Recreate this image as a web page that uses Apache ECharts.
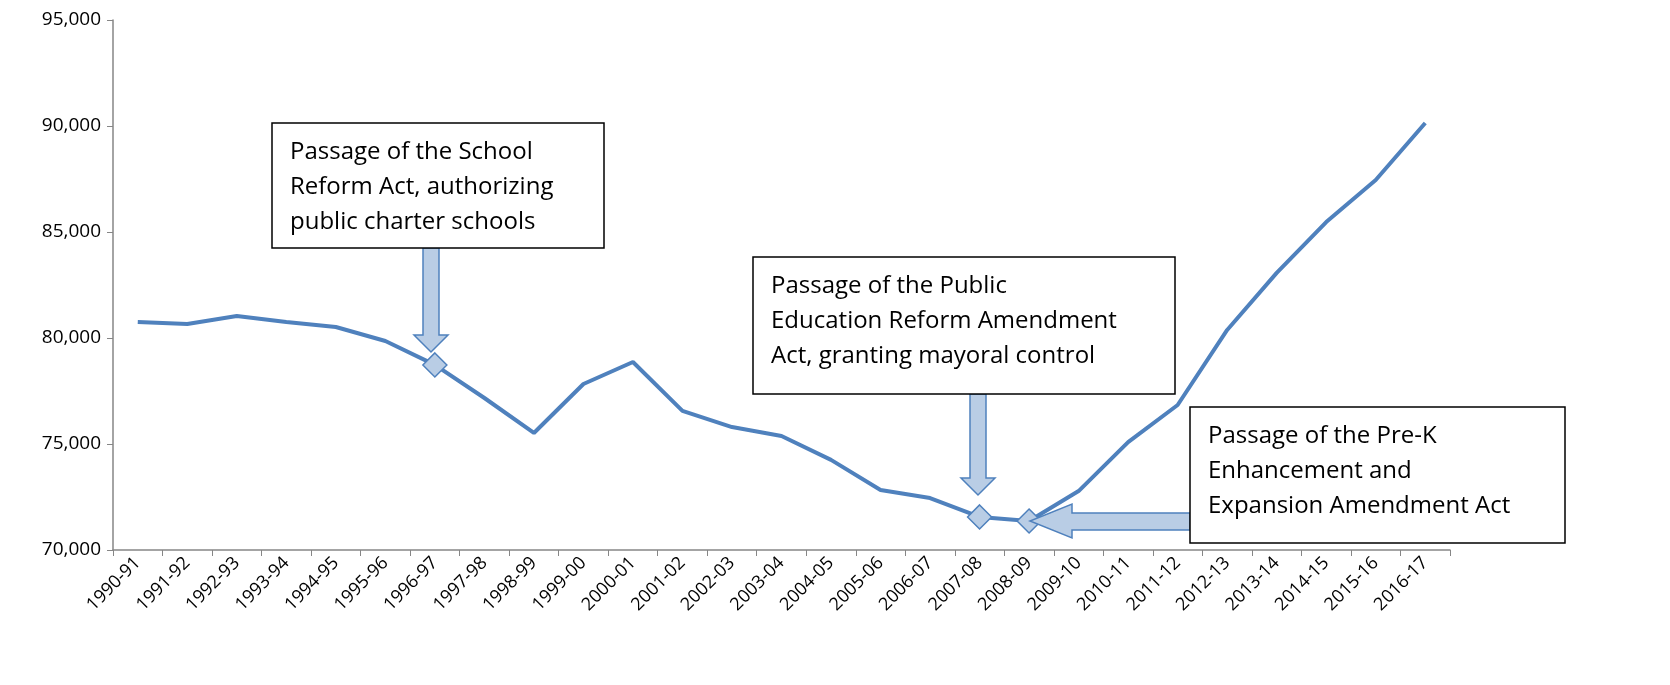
<!DOCTYPE html>
<html><head><meta charset="utf-8">
<script src="https://cdn.jsdelivr.net/npm/echarts@6/dist/echarts.min.js"></script>
<style>html,body{margin:0;padding:0;background:#fff}#c{width:1670px;height:685px}</style>
</head><body><div id="c"></div>
<script>
const years = ['1990-91','1991-92','1992-93','1993-94','1994-95','1995-96','1996-97','1997-98','1998-99','1999-00','2000-01','2001-02','2002-03','2003-04','2004-05','2005-06','2006-07','2007-08','2008-09','2009-10','2010-11','2011-12','2012-13','2013-14','2014-15','2015-16','2016-17'];
const enrollment = [80750,80660,81040,80750,80520,79860,78730,77170,75520,77830,78870,76560,75800,75380,74250,72830,72450,71560,71370,72780,75090,76840,80380,83070,85470,87450,90140];
const markedYears = ['1996-97','2007-08','2008-09'];
const notes = ['Passage of the School\nReform Act, authorizing\npublic charter schools',
  'Passage of the Public\nEducation Reform Amendment\nAct, granting mayoral control',
  'Passage of the Pre-K\nEnhancement and\nExpansion Amendment Act'];
const ff = '"Open Sans", "Liberation Sans", sans-serif';
const chart = echarts.init(document.getElementById('c'));
const arrowStyle = {fill:'#b9cde5', stroke:'#4f81bd', lineWidth:1.5};
function box(x,y,w,h,t){return [{type:'rect',shape:{x,y,width:w,height:h},style:{fill:'#fff',stroke:'#000',lineWidth:1.5},z:10},
 {type:'text',x:x+18,y:y+12,style:{text:t,font:'24px '+ff,fill:'#000',lineHeight:35},z:11}];}
function downArrow(cx,y0,y1){return {type:'polygon',shape:{points:[[cx-8,y0],[cx+8,y0],[cx+8,y1-17],[cx+17,y1-17],[cx,y1],[cx-17,y1-17],[cx-8,y1-17]]},style:arrowStyle,z:9};}
chart.setOption({
  animation:false,
  grid:{left:113,right:220,top:20,bottom:135},
  xAxis:{type:'category',data:years,boundaryGap:true,
    axisLine:{lineStyle:{color:'#868686',width:1.5}},axisTick:{show:true,length:6,lineStyle:{color:'#868686'}},
    axisLabel:{rotate:45,color:'#000',fontSize:18,fontFamily:ff,interval:0,margin:10}},
  yAxis:{type:'value',min:70000,max:95000,interval:5000,
    axisLine:{show:true,lineStyle:{color:'#868686',width:1.5}},axisTick:{show:true,length:6,lineStyle:{color:'#868686'}},
    splitLine:{show:false},
    axisLabel:{color:'#000',fontSize:19,fontFamily:ff,margin:12,formatter:v=>v.toLocaleString('en-US')}},
  series:[{type:'line',data:enrollment.map((v,i)=>({value:v,symbol:markedYears.includes(years[i])?'diamond':'none'})),
    symbolSize:24,itemStyle:{color:'#b9cde5',borderColor:'#4f81bd',borderWidth:1.5},
    lineStyle:{color:'#4f81bd',width:4},showSymbol:true}],
  graphic:[
    ...box(272,123,332,125,notes[0]),
    ...box(753,257,422,137,notes[1]),
    ...box(1190,407,375,136,notes[2]),
    downArrow(431,248,352),
    downArrow(978,394,495),
    {type:'polygon',shape:{points:[[1190,513],[1190,530],[1072,530],[1072,538],[1030,521],[1072,504],[1072,513]]},style:arrowStyle,z:9}
  ]
});
</script></body></html>
